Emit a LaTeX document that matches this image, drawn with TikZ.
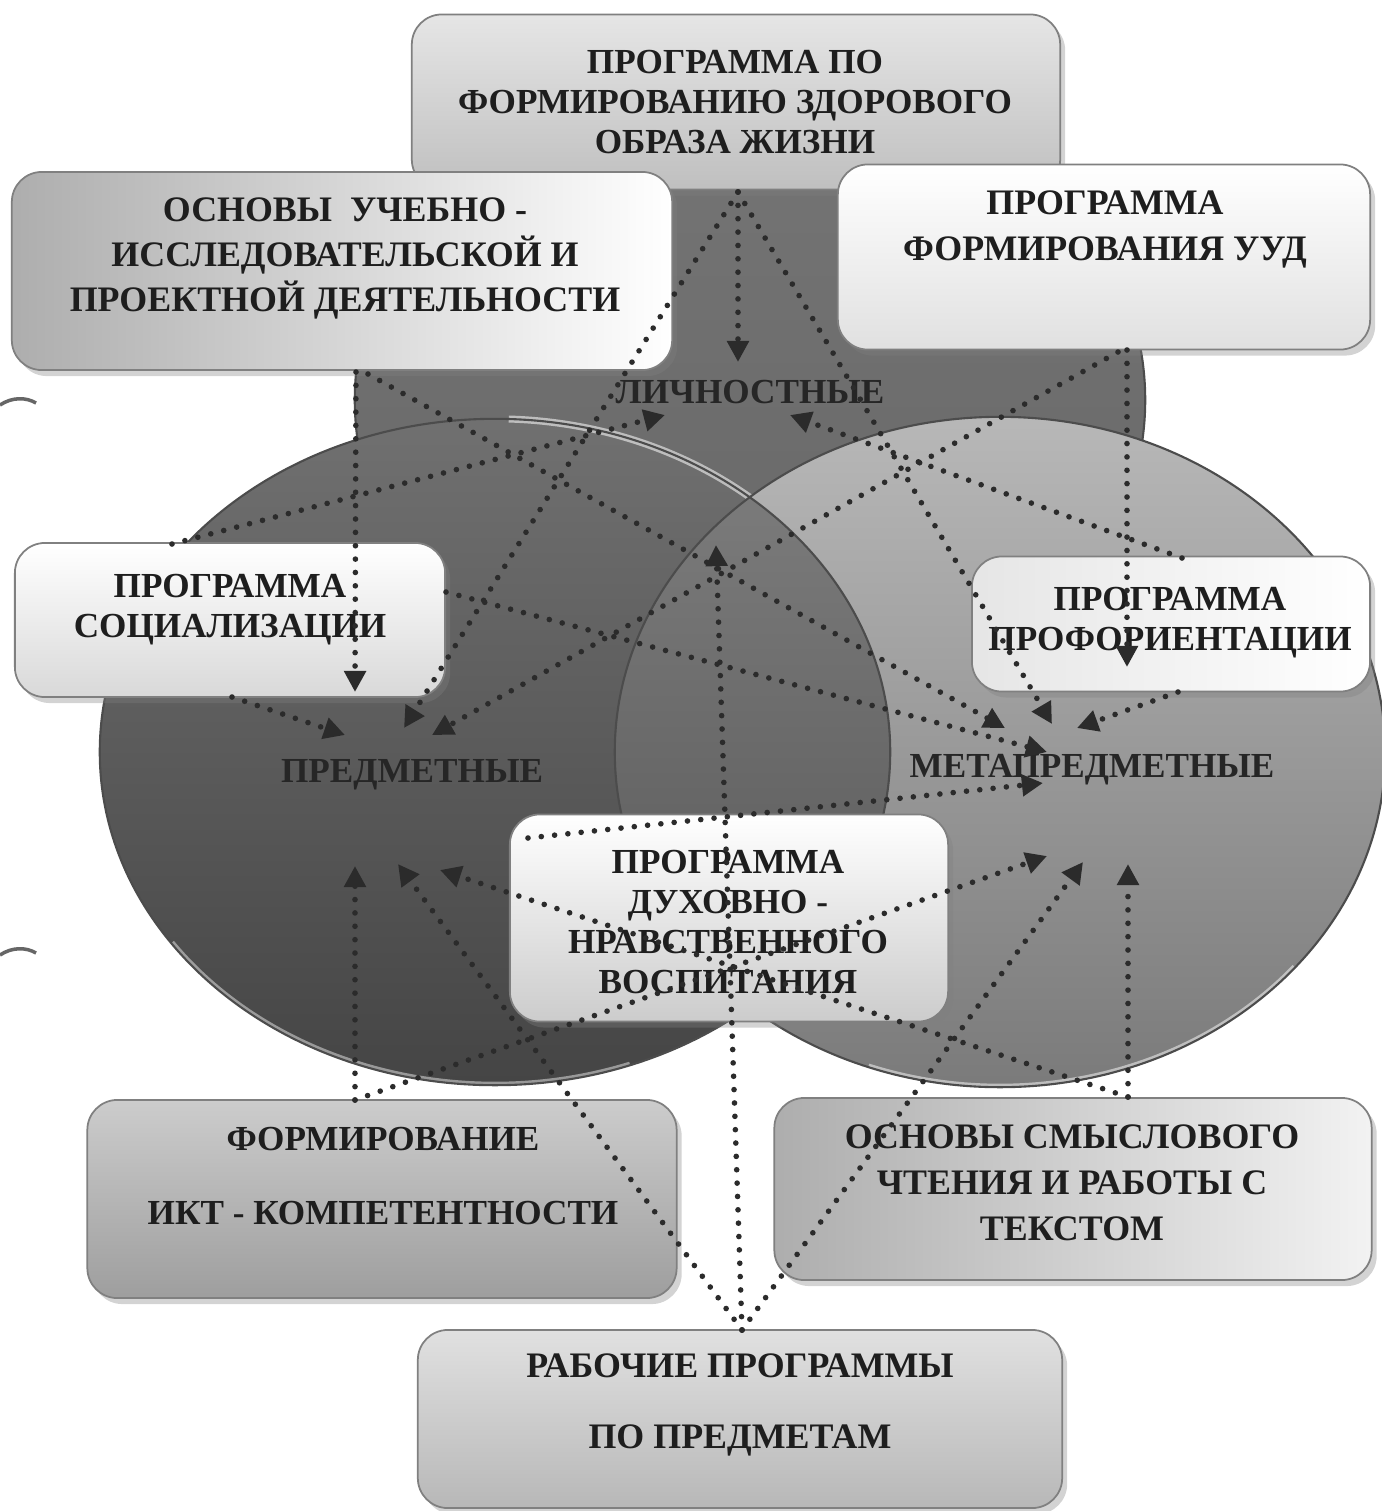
\documentclass[tikz,border=0pt]{standalone}
\usepackage{fontspec}
\setmainfont{Liberation Serif}
\usetikzlibrary{arrows.meta,shadows}

\definecolor{dotgray}{HTML}{2B2B2B}
\definecolor{inkgray}{HTML}{1E1E1E}

\begin{document}
\begin{tikzpicture}[x=0.01cm, y=-0.01cm,
	every node/.append style={text=inkgray, font=\bfseries\fontsize{10}{11.4}\selectfont},
	prog/.style={draw=black!50, line width=0.5pt, rounded corners=0.3cm,
		drop shadow={shadow xshift=0.05cm, shadow yshift=-0.06cm, opacity=0.35}},
	txt/.style={align=center, inner sep=0pt},
	res/.style={inner sep=0pt, text=black!85},
	link/.style={dotgray, line width=1.6pt, line cap=round, dash pattern=on 0pt off 3.8pt,
		-{Triangle[length=6pt, width=6pt]}}]

	\useasboundingbox (0,0) rectangle (1382,1511);

	% three result circles
	\shade[top color=black!54, bottom color=black!60] (750,400) ellipse [x radius=3.95cm, y radius=3.33cm];
	\draw[black!70, line width=0.6pt] (750,400) ellipse [x radius=3.95cm, y radius=3.33cm];

	\shade[top color=black!56, middle color=black!64, bottom color=black!73] (495,752) ellipse [x radius=3.95cm, y radius=3.33cm];
	\draw[white, opacity=0.55, line width=2pt] (495,752) ++(88:3.95cm and 3.33cm)
		arc[start angle=88, end angle=42, x radius=3.95cm, y radius=3.33cm];
	\draw[white, opacity=0.45, line width=2pt] (495,752) ++(215:3.95cm and 3.33cm)
		arc[start angle=215, end angle=290, x radius=3.95cm, y radius=3.33cm];

	\shade[top color=black!28, bottom color=black!52] (1000,752) ellipse [x radius=3.85cm, y radius=3.35cm];
	\begin{scope}
		\clip (495,752) ellipse [x radius=3.95cm, y radius=3.33cm];
		\shade[top color=black!50, bottom color=black!67] (1000,752) ellipse [x radius=3.85cm, y radius=3.35cm];
	\end{scope}
	\draw[white, opacity=0.5, line width=2pt] (1000,752) ++(250:3.85cm and 3.35cm)
		arc[start angle=250, end angle=320, x radius=3.85cm, y radius=3.35cm];
	\draw[black!70, line width=0.6pt] (495,752) ellipse [x radius=3.95cm, y radius=3.33cm];
	\draw[black!70, line width=0.6pt] (1000,752) ellipse [x radius=3.85cm, y radius=3.35cm];

	% program boxes
	\node[prog, top color=black!10, bottom color=black!25, minimum width=6.48cm, minimum height=1.75cm] (zozh) at (736,102) {};
	\node[prog, left color=black!32, right color=white, minimum width=6.60cm, minimum height=1.98cm] (issl) at (342,271) {};
	\node[prog, top color=white, bottom color=black!12, minimum width=5.32cm, minimum height=1.85cm] (uud) at (1104,257) {};
	\node[prog, top color=white, bottom color=black!15, minimum width=4.30cm, minimum height=1.54cm] (soc) at (230,620) {};
	\node[prog, left color=black!10, right color=white, minimum width=3.98cm, minimum height=1.35cm] (prof) at (1171,624) {};
	\node[prog, top color=white, bottom color=black!20, minimum width=4.38cm, minimum height=2.07cm] (dukh) at (729,918) {};
	\node[prog, top color=black!20, bottom color=black!38, minimum width=5.89cm, minimum height=1.98cm] (ikt) at (382,1199) {};
	\node[prog, left color=black!32, right color=black!5, minimum width=5.97cm, minimum height=1.82cm] (smysl) at (1073,1189) {};
	\node[prog, top color=black!12, bottom color=black!28, minimum width=6.44cm, minimum height=1.78cm] (rab) at (740,1419) {};

	\node[txt] (zozh-t) at (735,102) {ПРОГРАММА ПО\\ФОРМИРОВАНИЮ ЗДОРОВОГО\\ОБРАЗА ЖИЗНИ};
	\node[txt, font=\bfseries\fontsize{10.2}{12.8}\selectfont] (issl-t) at (345,258) {ОСНОВЫ\ \ УЧЕБНО -\\ИССЛЕДОВАТЕЛЬСКОЙ И\\ПРОЕКТНОЙ ДЕЯТЕЛЬНОСТИ};
	\node[txt, font=\bfseries\fontsize{10.2}{13.1}\selectfont] (uud-t) at (1105,229) {ПРОГРАММА\\ФОРМИРОВАНИЯ УУД};
	\node[txt] (soc-t) at (230,610) {ПРОГРАММА\\СОЦИАЛИЗАЦИИ};
	\node[txt] (prof-t) at (1170,623) {ПРОГРАММА\\ПРОФОРИЕНТАЦИИ};
	\node[txt] (dukh-t) at (728,922) {ПРОГРАММА\\ДУХОВНО -\\НРАВСТВЕННОГО\\ВОСПИТАНИЯ};
	\node[txt, font=\bfseries\fontsize{10}{20.8}\selectfont] (ikt-t) at (383,1176) {ФОРМИРОВАНИЕ\\ИКТ - КОМПЕТЕНТНОСТИ};
	\node[txt, font=\bfseries\fontsize{10.2}{13.1}\selectfont] (smysl-t) at (1072,1183) {ОСНОВЫ СМЫСЛОВОГО\\ЧТЕНИЯ И РАБОТЫ С\\ТЕКСТОМ};
	\node[txt, font=\bfseries\fontsize{10.2}{20}\selectfont] (rab-t) at (740,1405) {РАБОЧИЕ ПРОГРАММЫ\\ПО ПРЕДМЕТАМ};

	% results
	\node[res] (lich) at (750,392) {ЛИЧНОСТНЫЕ};
	\node[res] (pred) at (412,775) {ПРЕДМЕТНЫЕ};
	\node[res] (meta) at (1092,770) {МЕТАПРЕДМЕТНЫЕ};

	% connector ends
	\coordinate (zozh-s) at (738,192);
	\coordinate (issl-s) at (356,372);
	\coordinate (issl-e) at (368,374);
	\coordinate (uud-s) at (1127,350);
	\coordinate (uud-w) at (1118,352);
	\coordinate (soc-n) at (172,544);
	\coordinate (soc-s) at (232,697);
	\coordinate (soc-e) at (446,592);
	\coordinate (prof-n) at (1182,558);
	\coordinate (prof-s) at (1178,692);
	\coordinate (dukh-w) at (528,838);
	\coordinate (ikt-n) at (355,1100);
	\coordinate (smysl-n) at (1128,1097);
	\coordinate (rab-n) at (742,1330);

	\coordinate (lich-a) at (738,362);
	\coordinate (lich-b) at (665,415);
	\coordinate (lich-c) at (790,415);
	\coordinate (lich-d) at (716,545);
	\coordinate (pred-a) at (355,692);
	\coordinate (pred-b) at (345,735);
	\coordinate (pred-c) at (404,728);
	\coordinate (pred-d) at (432,735);
	\coordinate (pred-e) at (355,866);
	\coordinate (pred-f) at (398,864);
	\coordinate (pred-g) at (440,870);
	\coordinate (meta-a) at (1127,667);
	\coordinate (meta-b) at (1005,728);
	\coordinate (meta-c) at (1052,724);
	\coordinate (meta-d) at (1077,728);
	\coordinate (meta-e) at (1047,752);
	\coordinate (meta-f) at (1043,783);
	\coordinate (meta-g) at (1047,856);
	\coordinate (meta-h) at (1083,862);
	\coordinate (meta-i) at (1128,864);

	\foreach \a/\b in {zozh-s/lich-a, zozh-s/pred-c, zozh-s/meta-c,
		issl-s/pred-a, issl-e/meta-b, uud-s/meta-a, uud-w/pred-d,
		soc-n/lich-b, soc-s/pred-b, soc-e/meta-e, prof-n/lich-c, prof-s/meta-d,
		dukh-w/meta-f, ikt-n/pred-e, ikt-n/meta-g, smysl-n/pred-g, smysl-n/meta-i,
		rab-n/lich-d, rab-n/pred-f, rab-n/meta-h}
	{
		\draw[link] (\a) -- (\b);
	}

	% punch marks at the left edge
	\draw[black!60, line width=1pt] (0,405) .. controls (12,397) and (26,397) .. (36,403);
	\draw[black!60, line width=1pt] (0,955) .. controls (12,947) and (26,947) .. (36,953);

\end{tikzpicture}
\end{document}
